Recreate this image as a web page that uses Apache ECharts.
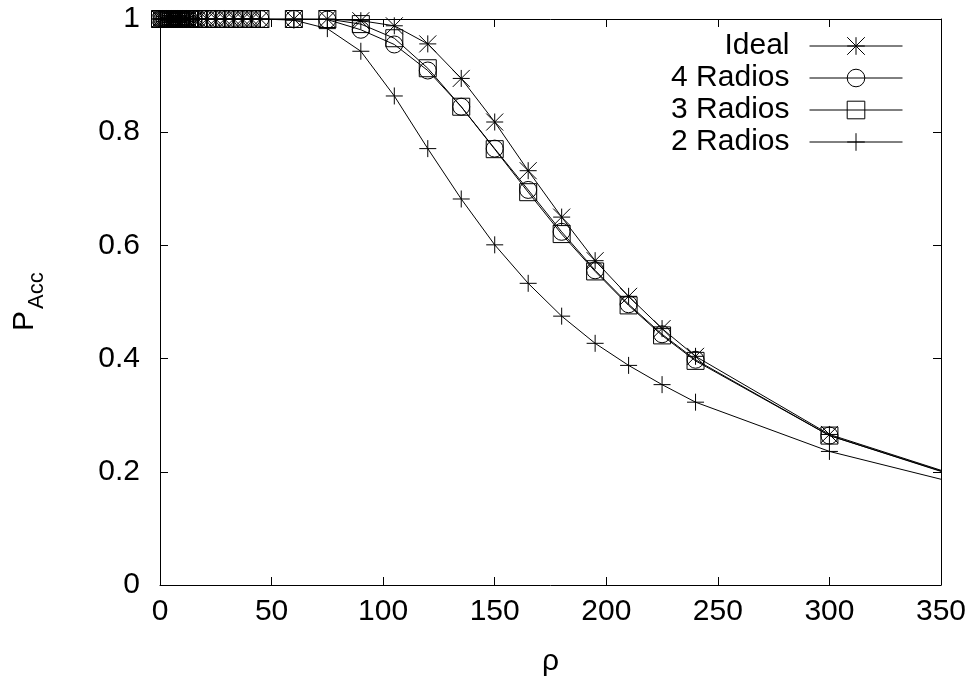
<!DOCTYPE html>
<html>
<head>
<meta charset="utf-8">
<script src="https://cdn.jsdelivr.net/npm/echarts@6/dist/echarts.min.js"></script>
<style>
  html, body { margin: 0; padding: 0; background: #fff; }
  #chart { width: 977px; height: 683px; }
</style>
</head>
<body>
<div id="chart"></div>
<script>
// ---- data ----
const rho = [0, 1, 2, 3, 4, 5, 6, 7, 8, 9, 10, 11, 12, 13, 15, 17, 21, 25, 29, 33, 37, 41, 45,
             60, 75, 90, 105, 120, 135, 150, 165, 180, 195, 210, 225, 240, 300, 360];
const ideal   = [1, 1, 1, 1, 1, 1, 1, 1, 1, 1, 1, 1, 1, 1, 1, 1, 1, 1, 1, 1, 1, 1, 1,
                 1, 1, 0.997, 0.988, 0.956, 0.895, 0.818, 0.732, 0.650, 0.573, 0.510, 0.453, 0.404, 0.266, 0.190];
const radios4 = [1, 1, 1, 1, 1, 1, 1, 1, 1, 1, 1, 1, 1, 1, 1, 1, 1, 1, 1, 1, 1, 1, 1,
                 1, 0.999, 0.981, 0.955, 0.909, 0.845, 0.771, 0.698, 0.624, 0.556, 0.496, 0.443, 0.398, 0.264, 0.188];
const radios3 = [1, 1, 1, 1, 1, 1, 1, 1, 1, 1, 1, 1, 1, 1, 1, 1, 1, 1, 1, 1, 1, 1, 1,
                 1, 1, 0.991, 0.966, 0.913, 0.845, 0.770, 0.694, 0.620, 0.554, 0.494, 0.441, 0.396, 0.264, 0.189];
const radios2 = [1, 1, 1, 1, 1, 1, 1, 1, 1, 1, 1, 1, 1, 1, 1, 1, 1, 1, 1, 1, 1, 1, 1,
                 0.998, 0.983, 0.943, 0.864, 0.771, 0.682, 0.601, 0.533, 0.475, 0.427, 0.388, 0.354, 0.323, 0.236, 0.177];
const seriesNames = ['Ideal', '4 Radios', '3 Radios', '2 Radios'];
const xTicks = { min: 0, max: 350, interval: 50 };
const yTicks = { min: 0, max: 1, interval: 0.2 };

// ---- styling ----
const FONT = 'Liberation Sans, Arial, Helvetica, sans-serif';
const SYM = {
  star:   'path://M0,0 L20,20 M0,20 L20,0 M10,0 L10,20 M0,10 L20,10',
  circle: 'path://M10,0 A10,10 0 1,1 10,20 A10,10 0 1,1 10,0 Z',
  square: 'path://M0,0 L20,0 L20,20 L0,20 Z',
  plus:   'path://M10,0 L10,20 M0,10 L20,10'
};
const symbols = [SYM.star, SYM.circle, SYM.square, SYM.plus];
const values = [ideal, radios4, radios3, radios2];

function pairs(xs, ys) { return xs.map((x, i) => [x, ys[i]]); }

const axisCommon = {
  type: 'value',
  axisLine: { show: true, onZero: false, lineStyle: { color: '#000', width: 1 } },
  axisTick: { show: true, inside: true, length: 8, lineStyle: { color: '#000', width: 1 } },
  splitLine: { show: false }
};

const chart = echarts.init(document.getElementById('chart'), null, { renderer: 'canvas' });
chart.setOption({
  animation: false,
  backgroundColor: '#fff',
  grid: { left: 160, right: 36, top: 19, bottom: 98, containLabel: false },
  xAxis: [
    Object.assign({}, axisCommon, xTicks, {
      position: 'bottom',
      axisLabel: { color: '#000', fontSize: 30, fontFamily: FONT, margin: 12 },
      name: 'ρ', nameLocation: 'middle', nameGap: 62,
      nameTextStyle: { color: '#000', fontSize: 30, fontFamily: FONT }
    }),
    Object.assign({}, axisCommon, xTicks, { position: 'top', axisLabel: { show: false } })
  ],
  yAxis: [
    Object.assign({}, axisCommon, yTicks, {
      position: 'left',
      axisLabel: { color: '#000', fontSize: 30, fontFamily: FONT, margin: 20 }
    }),
    Object.assign({}, axisCommon, yTicks, { position: 'right', axisLabel: { show: false } })
  ],
  legend: {
    orient: 'vertical', align: 'right', right: 74, top: 31, padding: 0,
    itemWidth: 93, itemHeight: 22, itemGap: 2, selectedMode: false,
    data: seriesNames,
    textStyle: { color: '#000', fontSize: 30, fontFamily: FONT, padding: [0, 15, 0, 0] },
    itemStyle: { color: 'transparent', borderColor: '#000', borderWidth: 1 },
    lineStyle: { color: '#000', width: 1 }
  },
  graphic: [{
    type: 'group', x: 40, y: 331, rotation: Math.PI / 2,
    children: [
      { type: 'text', x: 0, y: 0, style: { text: 'P', fill: '#000', font: '30px ' + FONT, align: 'left', verticalAlign: 'bottom' } },
      { type: 'text', x: 22, y: 8, style: { text: 'Acc', fill: '#000', font: '22px ' + FONT, align: 'left', verticalAlign: 'bottom' } }
    ]
  }],
  series: seriesNames.map((name, k) => ({
    name: name,
    type: 'line',
    xAxisIndex: 0, yAxisIndex: 0,
    data: pairs(rho, values[k]),
    symbol: symbols[k],
    symbolSize: 17,
    showAllSymbol: true,
    clip: true,
    z: 2 + k,
    lineStyle: { color: '#000', width: 1 },
    itemStyle: { color: 'transparent', borderColor: '#000', borderWidth: 1 },
    emphasis: { disabled: true }
  }))
});
</script>
</body>
</html>
